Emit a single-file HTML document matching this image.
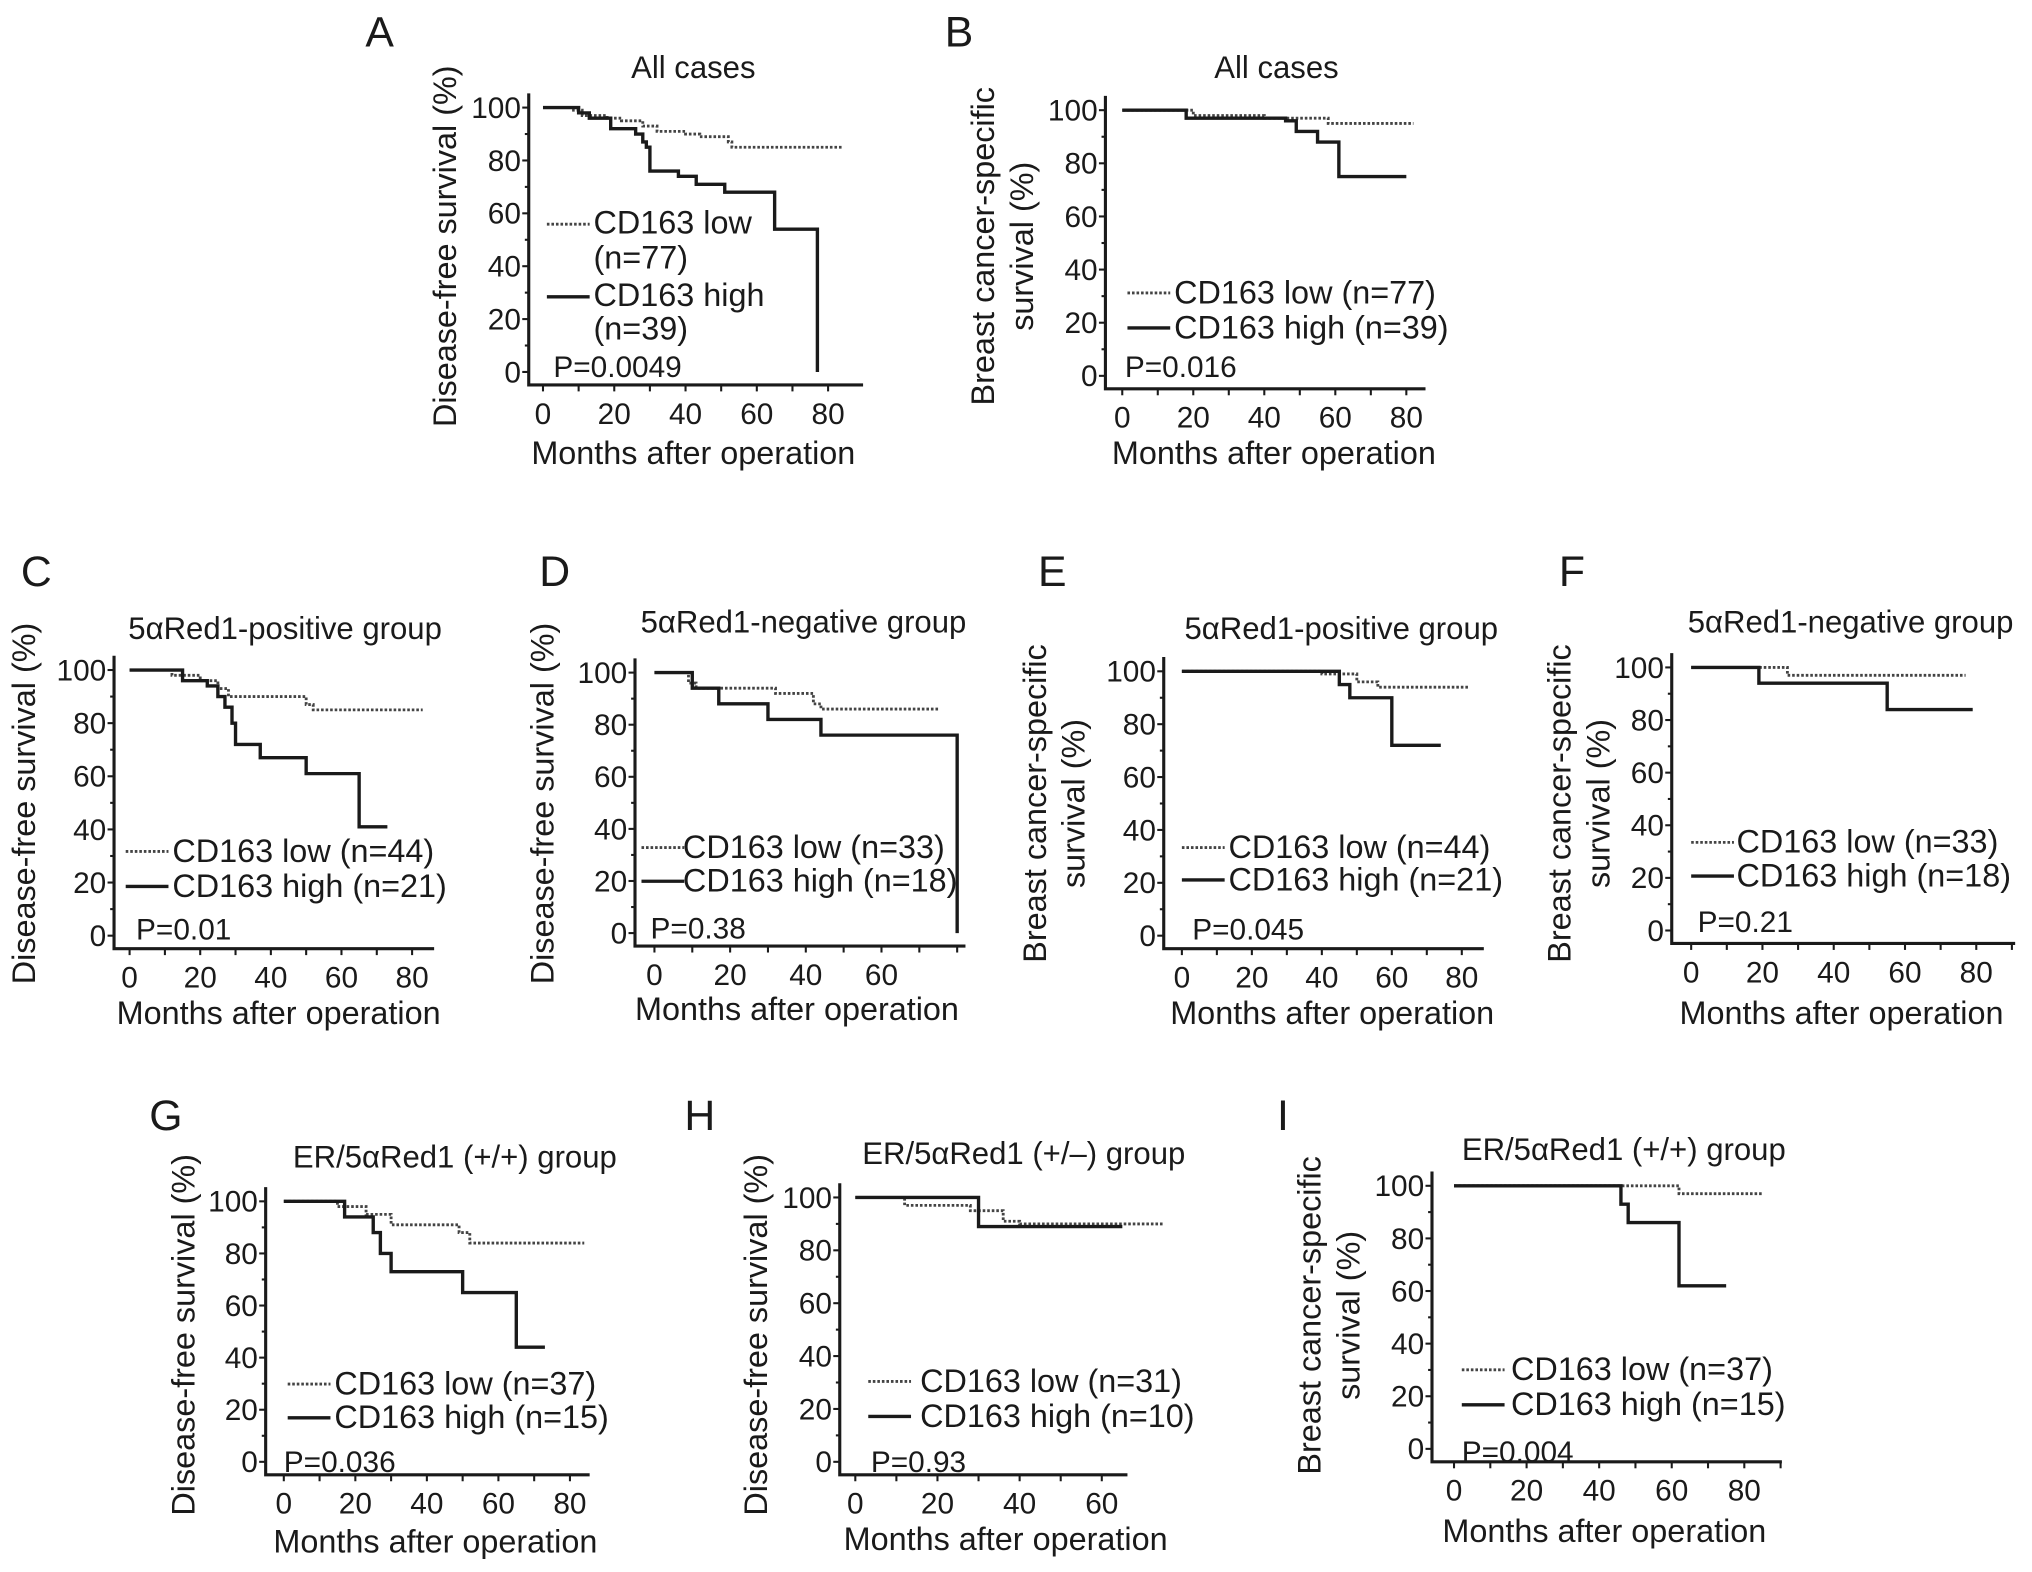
<!DOCTYPE html>
<html><head><meta charset="utf-8"><style>
html,body{margin:0;padding:0;background:#fff;}
svg{display:block;}
text{font-family:"Liberation Sans",Arial,sans-serif;fill:#1a1a1a;}
</style></head><body>
<svg id="fig" width="2032" height="1572" viewBox="0 0 1568 1213" xmlns="http://www.w3.org/2000/svg"></svg>
<script>
// Kaplan-Meier data: [month, survival %] step points; end month separate
const lowA=[[0,100],[8,99],[11,97],[18,96],[22,95],[28,93],[32,91],[40,90],[44,89],[52,87],[53,85]]; const lowAEnd=84;
const highA=[[0,100],[10,98],[13,96],[19,92],[26,90],[28,87],[29,85],[30,76],[38,74],[43,71],[51,68],[65,54],[77,0]]; const highAEnd=77;
const lowB=[[0,100],[20,98],[40,97],[58,95]]; const lowBEnd=82;
const highB=[[0,100],[18,97],[46,96],[49,92],[55,88],[61,75]]; const highBEnd=80;
const lowC=[[0,100],[12,98],[20,96],[25,93],[28,90],[50,87],[52,85]]; const lowCEnd=83;
const highC=[[0,100],[15,96],[22,94],[25,90],[27,86],[29,80],[30,72],[37,67],[50,61],[65,41]]; const highCEnd=73;
const lowD=[[0,100],[9,96],[11,94],[32,92],[42,88],[44,86]]; const lowDEnd=75;
const highD=[[0,100],[10,94],[17,88],[30,82],[44,76],[80,0]]; const highDEnd=80;
const lowE=[[0,100],[40,99],[50,96],[56,94]]; const lowEEnd=82;
const highE=[[0,100],[45,95],[48,90],[60,72]]; const highEEnd=74;
const lowF=[[0,100],[27,97]]; const lowFEnd=77;
const highF=[[0,100],[19,94],[55,84]]; const highFEnd=79;
const lowG=[[0,100],[15,98],[23,95],[30,91],[49,88],[52,84]]; const lowGEnd=84;
const highG=[[0,100],[17,94],[25,88],[27,80],[30,73],[50,65],[65,44]]; const highGEnd=73;
const lowH=[[0,100],[12,97],[28,95],[36,91],[40,90]]; const lowHEnd=75;
const highH=[[0,100],[30,89]]; const highHEnd=65;
const lowI=[[0,100],[62,97]]; const lowIEnd=85;
const highI=[[0,100],[46,93],[48,86],[62,62]]; const highIEnd=75;
const yTicks=[0,20,40,60,80,100];
const xTicks80=[0,20,40,60,80];
const xTicks60=[0,20,40,60];

const NS="http://www.w3.org/2000/svg";
const svg=document.getElementById('fig');
function mk(tag,attrs,parent){const e=document.createElementNS(NS,tag);for(const k in attrs)e.setAttribute(k,attrs[k]);(parent||svg).appendChild(e);return e;}
function txt(s,x,y,size,parent,anchor){const t=mk('text',{x:x,y:y,'font-size':size,'text-anchor':anchor||'start'},parent);t.textContent=s;return t;}

const panels=[
 {id:'A',ax:408,y100:83,y0:287,x0:419,xs:2.75,xend:666,xt:xTicks80,low:lowA,lowEnd:lowAEnd,high:highA,highEnd:highAEnd,
  title:'All cases',tx:535,ty:60,lx:293,ly:36,ylab:['Disease-free survival (%)'],ylx:[352],yly:190,
  leg:{lx:422,ly1:173,ly2:229,tx:458,lines:[['CD163 low',172],['(n=77)',199],['CD163 high',228],['(n=39)',254]]},p:'P=0.0049',px:427,py:291,xl:[535,358],fs:23},
 {id:'B',ax:853,y100:85,y0:290,x0:866,xs:2.74,xend:1100,xt:xTicks80,low:lowB,lowEnd:lowBEnd,high:highB,highEnd:highBEnd,
  title:'All cases',tx:985,ty:60,lx:740,ly:36,ylab:['Breast cancer-specific','survival (%)'],ylx:[767,797],yly:190,
  leg:{lx:870,ly1:226,ly2:253,tx:906,lines:[['CD163 low (n=77)',226],['CD163 high (n=39)',253]]},p:'P=0.016',px:868,py:291,xl:[983,358],fs:23},
 {id:'C',ax:88,y100:517,y0:722,x0:100,xs:2.725,xend:335,xt:xTicks80,low:lowC,lowEnd:lowCEnd,high:highC,highEnd:highCEnd,
  title:'5\u03B1Red1-positive group',tx:220,ty:493,lx:28,ly:452,ylab:['Disease-free survival (%)'],ylx:[27],yly:620,
  leg:{lx:97,ly1:657,ly2:684,tx:133,lines:[['CD163 low (n=44)',657],['CD163 high (n=21)',684]]},p:'P=0.01',px:105,py:725,xl:[215,790],fs:23},
 {id:'D',ax:490,y100:519,y0:720,x0:505,xs:2.92,xend:745,xt:xTicks60,low:lowD,lowEnd:lowDEnd,high:highD,highEnd:highDEnd,
  title:'5\u03B1Red1-negative group',tx:620,ty:488,lx:428,ly:452,ylab:['Disease-free survival (%)'],ylx:[427],yly:620,
  leg:{lx:495,ly1:654,ly2:680,tx:527,lines:[['CD163 low (n=33)',654],['CD163 high (n=18)',680]]},p:'P=0.38',px:502,py:724,xl:[615,787],fs:23},
 {id:'E',ax:898,y100:518,y0:722,x0:912,xs:2.7,xend:1145,xt:xTicks80,low:lowE,lowEnd:lowEEnd,high:highE,highEnd:highEEnd,
  title:'5\u03B1Red1-positive group',tx:1035,ty:493,lx:812,ly:452,ylab:['Breast cancer-specific','survival (%)'],ylx:[807,837],yly:620,
  leg:{lx:912,ly1:654,ly2:679,tx:948,lines:[['CD163 low (n=44)',654],['CD163 high (n=21)',679]]},p:'P=0.045',px:920,py:725,xl:[1028,790],fs:23},
 {id:'F',ax:1290,y100:515,y0:718,x0:1305,xs:2.75,xend:1555,xt:xTicks80,low:lowF,lowEnd:lowFEnd,high:highF,highEnd:highFEnd,
  title:'5\u03B1Red1-negative group',tx:1428,ty:488,lx:1213,ly:452,ylab:['Breast cancer-specific','survival (%)'],ylx:[1212,1242],yly:620,
  leg:{lx:1305,ly1:650,ly2:676,tx:1340,lines:[['CD163 low (n=33)',650],['CD163 high (n=18)',676]]},p:'P=0.21',px:1310,py:719,xl:[1421,790],fs:23},
 {id:'G',ax:205,y100:927,y0:1128,x0:219,xs:2.76,xend:455,xt:xTicks80,low:lowG,lowEnd:lowGEnd,high:highG,highEnd:highGEnd,
  title:'ER/5\u03B1Red1 (+/+) group',tx:351,ty:901,lx:128,ly:872,ylab:['Disease-free survival (%)'],ylx:[150],yly:1030,
  leg:{lx:222,ly1:1068,ly2:1094,tx:258,lines:[['CD163 low (n=37)',1068],['CD163 high (n=15)',1094]]},p:'P=0.036',px:219,py:1136,xl:[336,1198],fs:23},
 {id:'H',ax:648,y100:924,y0:1128,x0:660,xs:3.17,xend:870,xt:xTicks60,low:lowH,lowEnd:lowHEnd,high:highH,highEnd:highHEnd,
  title:'ER/5\u03B1Red1 (+/\u2013) group',tx:790,ty:898,lx:540,ly:872,ylab:['Disease-free survival (%)'],ylx:[592],yly:1030,
  leg:{lx:670,ly1:1066,ly2:1093,tx:710,lines:[['CD163 low (n=31)',1066],['CD163 high (n=10)',1093]]},p:'P=0.93',px:672,py:1136,xl:[776,1196],fs:23},
 {id:'I',ax:1105,y100:915,y0:1118,x0:1122,xs:2.8,xend:1375,xt:xTicks80,low:lowI,lowEnd:lowIEnd,high:highI,highEnd:highIEnd,
  title:'ER/5\u03B1Red1 (+/+) group',tx:1253,ty:895,lx:990,ly:872,ylab:['Breast cancer-specific','survival (%)'],ylx:[1019,1049],yly:1015,
  leg:{lx:1128,ly1:1057,ly2:1084,tx:1166,lines:[['CD163 low (n=37)',1057],['CD163 high (n=15)',1084]]},p:'P=0.004',px:1128,py:1128,xl:[1238,1190],fs:23}
];

function stepPath(pts,end,X,Y){
  let d='M'+X(pts[0][0])+','+Y(pts[0][1]);
  for(let i=1;i<pts.length;i++){d+=' H'+X(pts[i][0])+' V'+Y(pts[i][1]);}
  d+=' H'+X(end);return d;
}

panels.forEach(p=>{
  const g=mk('g',{});
  
  
  const X=m=>p.x0+m*p.xs;
  const Y=s=>p.y0-(s/100)*(p.y0-p.y100);
  const by=p.y0+10, top=p.y100-11;
  const L=txt(p.id,p.lx,p.ly,33,g,'middle');
  
  
  const T=txt(p.title,p.tx,p.ty,p.fs+1,g,'middle');
  
  
  const ax=mk('path',{d:'M'+p.ax+','+top+' V'+by+' H'+p.xend,stroke:'#1a1a1a','stroke-width':2.4,fill:'none'},g);
  
  
  for(let v=0;v<=100;v+=10){mk('line',{x1:p.ax-(v%20===0?5:3),x2:p.ax,y1:Y(v),y2:Y(v),stroke:'#1a1a1a','stroke-width':1.6},g);}
  yTicks.forEach(v=>{const t=txt(String(v),p.ax-6,Y(v)+8,p.fs,g,'end');
    
    });
  const maxM=(p.xend-p.x0)/p.xs;
  for(let m=0;m<=maxM;m+=10){mk('line',{x1:X(m),x2:X(m),y1:by,y2:by+5,stroke:'#1a1a1a','stroke-width':1.6},g);}
  p.xt.forEach(v=>{const t=txt(String(v),X(v),by+30,p.fs,g,'middle');
    
    });
  const xl=txt('Months after operation',p.xl[0],p.xl[1],p.fs+2,g,'middle');
  
  
  p.ylab.forEach((s,i)=>{const t=txt(s,0,0,p.fs+2,g,'middle');
    t.setAttribute('transform','translate('+p.ylx[i]+','+p.yly+') rotate(-90)');
    
    });
  const lo=mk('path',{d:stepPath(p.low,p.lowEnd,X,Y),stroke:'#444','stroke-width':2.2,'stroke-dasharray':'2,1.5',fill:'none'},g);
  
  
  const hi=mk('path',{d:stepPath(p.high,p.highEnd,X,Y),stroke:'#1a1a1a','stroke-width':2.6,fill:'none'},g);
  
  
  const lg=mk('g',{},g);
  
  
  mk('line',{x1:p.leg.lx,x2:p.leg.lx+33,y1:p.leg.ly1,y2:p.leg.ly1,stroke:'#444','stroke-width':2.2,'stroke-dasharray':'2,1.5'},lg);
  mk('line',{x1:p.leg.lx,x2:p.leg.lx+33,y1:p.leg.ly2,y2:p.leg.ly2,stroke:'#1a1a1a','stroke-width':2.6},lg);
  p.leg.lines.forEach(l=>{const t=txt(l[0],p.leg.tx,l[1]+8,p.fs+2,lg);
    
    });
  const pv=txt(p.p,p.px,p.py,p.fs,g);
  
  
});
</script>
</body></html>
